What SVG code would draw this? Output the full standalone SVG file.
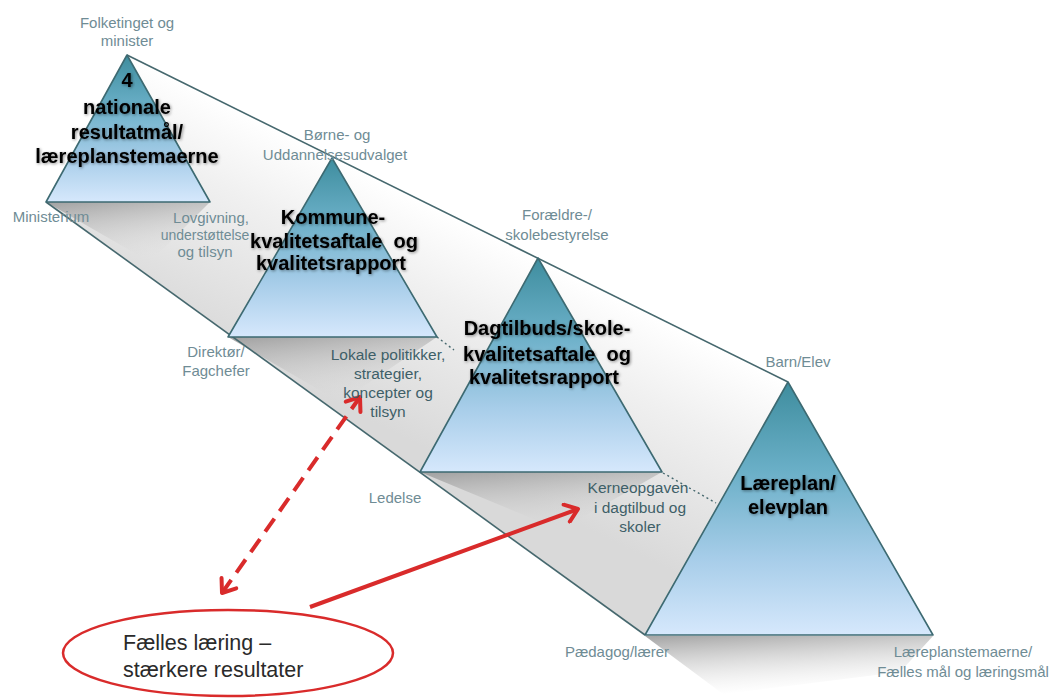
<svg xmlns="http://www.w3.org/2000/svg" width="1057" height="698" viewBox="0 0 1057 698">
<defs>
<linearGradient id="prismFill" gradientUnits="userSpaceOnUse" x1="400" y1="190" x2="302" y2="387">
<stop offset="0" stop-color="#ffffff"/>
<stop offset="0.35" stop-color="#f0f0f0"/>
<stop offset="1" stop-color="#d9d9d9"/>
</linearGradient>
<linearGradient id="triFill" x1="0" y1="0" x2="0" y2="1">
<stop offset="0" stop-color="#3e8d9e"/>
<stop offset="0.35" stop-color="#6aafc7"/>
<stop offset="0.7" stop-color="#a7cde9"/>
<stop offset="1" stop-color="#d6e8fc"/>
</linearGradient>
<linearGradient id="shadow" x1="0" y1="0" x2="0.3" y2="1">
<stop offset="0" stop-color="#9a9a9a" stop-opacity="0.9"/>
<stop offset="1" stop-color="#d8d8d8" stop-opacity="0"/>
</linearGradient>
<filter id="glow" x="-10%" y="-30%" width="120%" height="160%">
<feGaussianBlur in="SourceAlpha" stdDeviation="1.6" result="b"/>
<feOffset in="b" dx="1" dy="1" result="o"/>
<feFlood flood-color="#000" flood-opacity="0.45"/>
<feComposite in2="o" operator="in" result="s"/>
<feMerge><feMergeNode in="s"/><feMergeNode in="SourceGraphic"/></feMerge>
</filter>
<marker id="head" markerUnits="userSpaceOnUse" markerWidth="22" markerHeight="22" viewBox="0 0 22 22" refX="17" refY="11" orient="auto-start-reverse">
<path d="M5,2 L17,11 L5,20" fill="none" stroke="#d92b2b" stroke-width="4" stroke-linecap="round" stroke-linejoin="round"/>
</marker>
</defs>
<style>
.tri{fill:url(#triFill);stroke:#3d6a72;stroke-width:1.6;stroke-linejoin:round}
.edge{fill:none;stroke:#46686e;stroke-width:1.6}
.dot{fill:none;stroke:#46686e;stroke-width:1.4;stroke-dasharray:2,3}
.shd{fill:url(#shadow)}
.title{font-family:"Liberation Sans",Arial,sans-serif;font-weight:bold;font-size:20px;fill:#000;text-anchor:middle;white-space:pre;filter:url(#glow)}
.lbl{font-family:"Liberation Sans",Arial,sans-serif;font-size:15px;fill:#6f8c95;text-anchor:middle}
.lbd{font-family:"Liberation Sans",Arial,sans-serif;font-size:15.5px;fill:#3e5f68;text-anchor:middle}
.red{fill:none;stroke:#d92b2b;stroke-width:4}
.ell{font-family:"Liberation Sans",Arial,sans-serif;font-size:21.5px;fill:#2a2a2a}
</style>
<rect width="1057" height="698" fill="#ffffff"/>
<g id="prism">
<polygon points="127,55 788,382 645,635 46,202" fill="url(#prismFill)"/>
<polygon class="shd" points="46,202 210,202 150,262"/>
<polygon class="shd" points="228,337 437,337 340,402"/>
<polygon class="shd" points="420,472 662,472 560,530"/>
<polygon class="shd" points="645,636 933,636 900,672 723,694"/>
<line class="edge" x1="127" y1="55" x2="788" y2="382"/>
<line class="edge" x1="46" y1="202" x2="645" y2="635"/>
</g>
<g id="connectors">
<line class="dot" x1="437" y1="337" x2="454" y2="350"/>
<line class="dot" x1="663" y1="473" x2="716" y2="503"/>
<line class="red" x1="222" y1="593" x2="360" y2="397" stroke-dasharray="16,9" marker-start="url(#head)" marker-end="url(#head)"/>
<line class="red" x1="310" y1="607" x2="578" y2="509" marker-end="url(#head)"/>
</g>
<g id="pyramid1">
<polygon class="tri" points="127,55 210,202 46,202"/>
<text class="lbl" x="127" y="28">Folketinget og</text>
<text class="lbl" x="127" y="46">minister</text>
<text class="lbl" x="51" y="222">Ministerium</text>
<text class="lbl" x="211" y="223">Lovgivning,</text>
<text class="lbl" x="205" y="240" style="font-size:14px">understøttelse</text>
<text class="lbl" x="205" y="257">og tilsyn</text>
<text class="title" x="127" y="87">4</text>
<text class="title" x="127" y="114">nationale</text>
<text class="title" x="127" y="139">resultatmål/</text>
<text class="title" x="127" y="163">læreplanstemaerne</text>
</g>
<g id="pyramid2">
<polygon class="tri" points="332,158 437,337 228,337"/>
<text class="lbl" x="337" y="140">Børne- og</text>
<text class="lbl" x="335" y="160">Uddannelsesudvalget</text>
<text class="lbl" x="216" y="357">Direktør/</text>
<text class="lbl" x="216" y="376">Fagchefer</text>
<text class="lbd" x="388" y="360">Lokale politikker,</text>
<text class="lbd" x="388" y="379">strategier,</text>
<text class="lbd" x="388" y="398">koncepter og</text>
<text class="lbd" x="388" y="417">tilsyn</text>
<text class="title" x="333" y="224">Kommune-</text>
<text class="title" x="334" y="248">kvalitetsaftale  og</text>
<text class="title" x="331" y="270">kvalitetsrapport</text>
</g>
<g id="pyramid3">
<polygon class="tri" points="538,258 662,472 420,472"/>
<text class="lbl" x="557" y="220">Forældre-/</text>
<text class="lbl" x="557" y="240">skolebestyrelse</text>
<text class="lbl" x="395" y="503">Ledelse</text>
<text class="lbd" x="638" y="493">Kerneopgaven</text>
<text class="lbd" x="640" y="513">i dagtilbud og</text>
<text class="lbd" x="640" y="532">skoler</text>
<text class="title" x="547" y="335">Dagtilbuds/skole-</text>
<text class="title" x="547" y="361">kvalitetsaftale  og</text>
<text class="title" x="544" y="384">kvalitetsrapport</text>
</g>
<g id="pyramid4">
<polygon class="tri" points="788,382 933,635 645,635"/>
<text class="lbl" x="798" y="367">Barn/Elev</text>
<text class="lbl" x="617" y="657">Pædagog/lærer</text>
<text class="lbl" x="963" y="657">Læreplanstemaerne/</text>
<text class="lbl" x="963" y="677">Fælles mål og læringsmål</text>
<text class="title" x="788" y="490">Læreplan/</text>
<text class="title" x="788" y="514">elevplan</text>
</g>
<g id="goal">
<ellipse cx="228" cy="653" rx="165" ry="43" fill="none" stroke="#d92b2b" stroke-width="2.5"/>
<text class="ell" x="123" y="650">Fælles læring –</text>
<text class="ell" x="123" y="677">stærkere resultater</text>
</g>
</svg>
